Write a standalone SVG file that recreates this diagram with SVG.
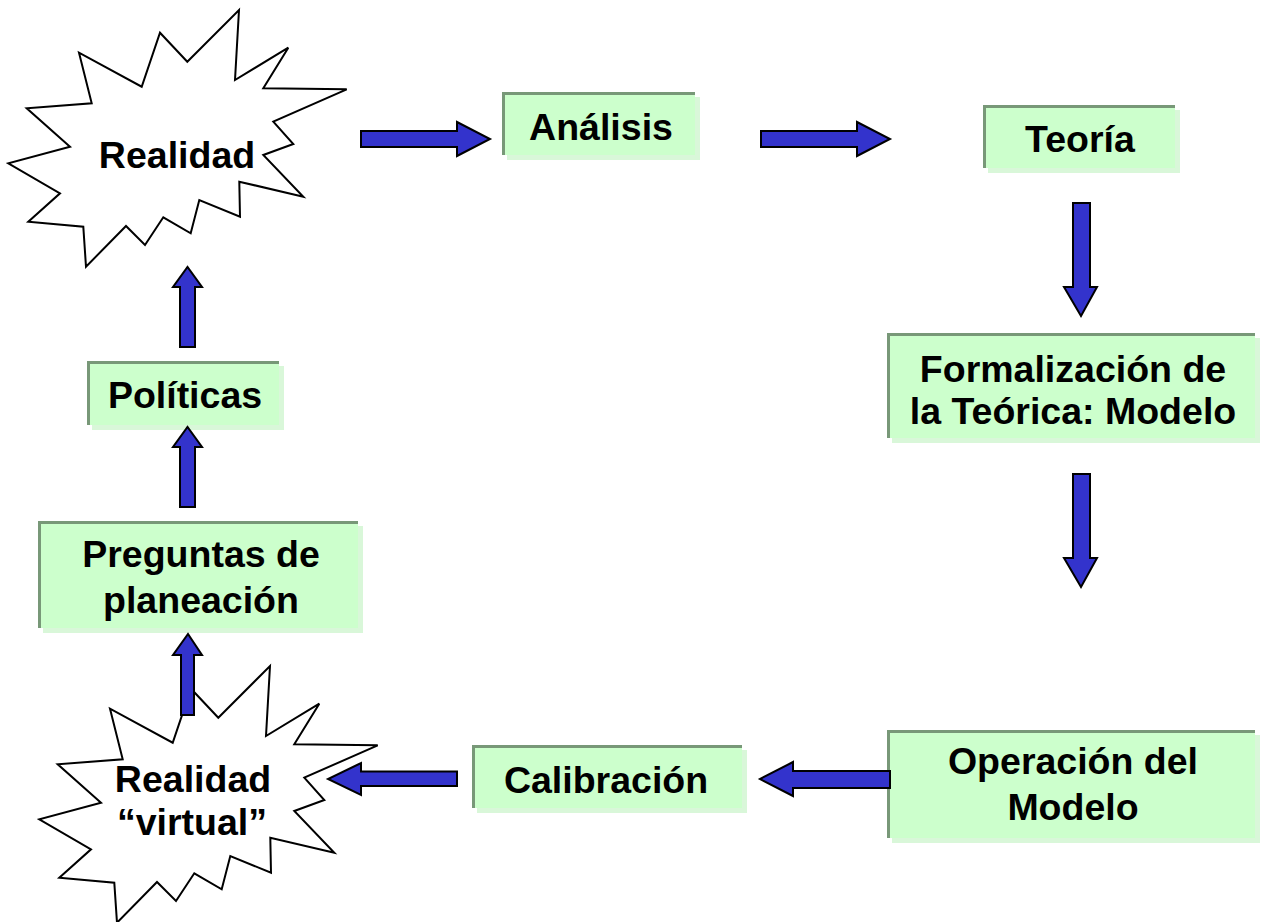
<svg xmlns="http://www.w3.org/2000/svg" xmlns:xlink="http://www.w3.org/1999/xlink" width="1261" height="922" viewBox="0 0 1261 922">
<style>
.shadow{fill:#d9f7d9;}
.box{fill:#ccffcc;}
.edge{fill:none;stroke:#789878;stroke-width:3;}
.burst{fill:#ffffff;stroke:#000000;stroke-width:2;stroke-linejoin:miter;}
.arrow{fill:#3333cc;stroke:#000000;stroke-width:2;stroke-linejoin:miter;}
text{font-family:"Liberation Sans",Arial,sans-serif;font-weight:bold;font-size:37.5px;fill:#000000;text-anchor:middle;}
</style>
<defs>
<polygon id="star" points="239,10 235,80 288.3,47.7 263.3,88.3 346.7,89.3 273.3,121.7 293.3,144 263.3,155 303.3,196.7 239.3,181.7 240,216.7 199.3,200 190.7,233.3 163.3,217.3 145,245 126,226 86,266.7 83.3,226.7 28.3,221.7 60,193.3 8.3,163.3 70,146.7 26.7,108.3 91.7,103.3 79,52.7 141.7,86.7 160,32.7 187.3,61.7"/>
</defs>
<rect width="1261" height="922" fill="#ffffff"/>
<g id="realidad">
<use xlink:href="#star" class="burst"/>
<text x="177" y="168">Realidad</text>
</g>
<g id="analisis">
<rect class="shadow" x="507" y="97" width="193" height="63"/>
<rect class="box" x="502" y="92" width="193" height="63"/>
<polyline class="edge" points="503.5,155 503.5,93.5 695,93.5"/>
<text x="601" y="140">Análisis</text>
</g>
<g id="teoria">
<rect class="shadow" x="988" y="110" width="192" height="63"/>
<rect class="box" x="983" y="105" width="192" height="63"/>
<polyline class="edge" points="984.5,168 984.5,106.5 1175,106.5"/>
<text x="1080" y="152">Teoría</text>
</g>
<g id="formalizacion">
<rect class="shadow" x="892" y="338" width="368" height="105"/>
<rect class="box" x="887" y="333" width="368" height="105"/>
<polyline class="edge" points="888.5,438 888.5,334.5 1255,334.5"/>
<text x="1073" y="382">Formalización de</text>
<text x="1073" y="424">la Teórica: Modelo</text>
</g>
<g id="operacion">
<rect class="shadow" x="892" y="735" width="368" height="108"/>
<rect class="box" x="887" y="730" width="368" height="108"/>
<polyline class="edge" points="888.5,838 888.5,731.5 1255,731.5"/>
<text x="1073" y="774">Operación del</text>
<text x="1073" y="820">Modelo</text>
</g>
<g id="calibracion">
<rect class="shadow" x="477" y="750" width="270" height="63"/>
<rect class="box" x="472" y="745" width="270" height="63"/>
<polyline class="edge" points="473.5,808 473.5,746.5 742,746.5"/>
<text x="606" y="793">Calibración</text>
</g>
<g id="realidad-virtual">
<use xlink:href="#star" class="burst" transform="translate(31,656)"/>
<text x="193" y="792">Realidad</text>
<text x="192" y="835">“virtual”</text>
</g>
<g id="preguntas">
<rect class="shadow" x="43" y="526" width="320" height="107"/>
<rect class="box" x="38" y="521" width="320" height="107"/>
<polyline class="edge" points="39.5,628 39.5,522.5 358,522.5"/>
<text x="201" y="567">Preguntas de</text>
<text x="201" y="613">planeación</text>
</g>
<g id="politicas">
<rect class="shadow" x="92" y="366" width="192" height="64"/>
<rect class="box" x="87" y="361" width="192" height="64"/>
<polyline class="edge" points="88.5,425 88.5,362.5 279,362.5"/>
<text x="185" y="408">Políticas</text>
</g>
<g id="connectors">
<polygon class="arrow" points="361,131 457,131 457,122 490,139 457,156 457,147 361,147"/>
<polygon class="arrow" points="761,131 857,131 857,122 890,139 857,156 857,147 761,147"/>
<polygon class="arrow" points="1073,203 1090,203 1090,287 1097,287 1081,316 1064,287 1073,287"/>
<polygon class="arrow" points="1073,474 1090,474 1090,558 1097,558 1081,587 1064,558 1073,558"/>
<polygon class="arrow" points="890,771 793,771 793,762 760,779 793,796 793,788 890,788"/>
<polygon class="arrow" points="457,771.5 361,771.5 361,763 328,779 361,795 361,786 457,786"/>
<polygon class="arrow" points="181,715 181,655 173,655 188,634 202,655 194,655 194,715"/>
<polygon class="arrow" points="180,507 180,447 173,447 187.5,427 202,447 195,447 195,507"/>
<polygon class="arrow" points="180,347 180,287 173,287 187.5,267 202,287 195,287 195,347"/>
</g>
</svg>
